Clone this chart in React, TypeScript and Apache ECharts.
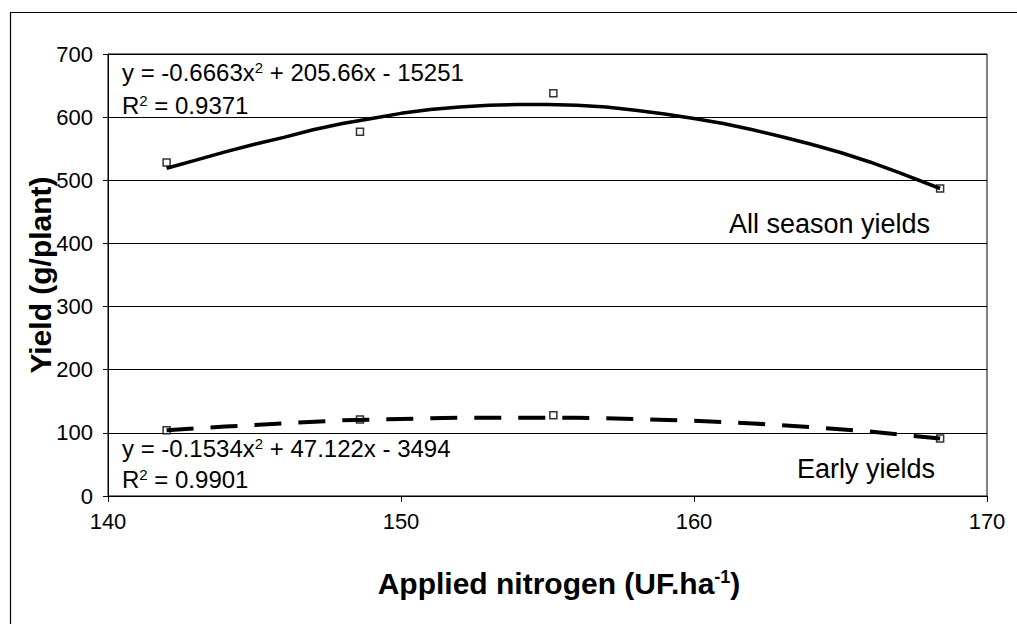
import React, { useEffect, useRef } from "react";
import * as echarts from "echarts";

const xTicks = [140, 150, 160, 170];
const yTicks = [0, 100, 200, 300, 400, 500, 600, 700];

const allSeasonPoints = [
  [142.0, 528],
  [148.6, 577],
  [155.2, 638],
  [168.4, 487],
];
const earlyPoints = [
  [142.0, 104],
  [148.6, 121],
  [155.2, 128],
  [168.4, 91],
];

// trend lines
const allSeasonTrend = [
  [142, 519], [143, 532], [144, 545], [145, 557], [146, 568], [147, 580],
  [148, 590], [149, 598], [150, 606], [151, 612], [152, 616], [153, 619],
  [154, 620], [155, 620], [156, 619], [157, 616], [158, 611], [159, 605],
  [160, 598], [161, 590], [162, 580], [163, 569], [164, 557], [165, 544],
  [166, 529], [167, 512], [168.4, 487],
];
const earlyTrend = [
  [142, 104], [144, 110], [146, 115], [148, 120], [150, 122], [152, 124],
  [154, 124], [156, 124], [158, 122], [160, 119], [162, 115], [164, 109],
  [166, 102], [168.4, 91],
];

const allEq = "y = -0.6663x{sup|2} + 205.66x - 15251";
const allR2 = "R{sup|2} = 0.9371";
const earlyEq = "y = -0.1534x{sup|2} + 47.122x - 3494";
const earlyR2 = "R{sup|2} = 0.9901";
const allLabel = "All season yields";
const earlyLabel = "Early yields";
const xTitle = "Applied nitrogen (UF.ha{sup|-1})";
const yTitle = "Yield (g/plant)";

const FONT = "'Liberation Sans', Arial, sans-serif";

export default function App() {
  const ref = useRef<HTMLDivElement>(null);
  useEffect(() => {
    if (!ref.current) return;
    const chart = echarts.init(ref.current, null, { renderer: "svg" });
    const eqStyle = (text: string) => ({
      text,
      fontSize: 24,
      fontFamily: FONT,
      fill: "#000",
      rich: {
        sup: { fontSize: 15, fontFamily: FONT, verticalAlign: "top", fill: "#000" },
      },
    });
    chart.setOption({
      animation: false,
      backgroundColor: "#fff",
      grid: {
        left: 108,
        top: 54,
        right: 30,
        bottom: 128,
        show: true,
        borderColor: "#000",
        borderWidth: 1,
      },
      xAxis: {
        type: "value",
        min: xTicks[0],
        max: xTicks[xTicks.length - 1],
        interval: 10,
        axisLine: { lineStyle: { color: "#000", width: 1 } },
        axisTick: { show: true, length: 6, lineStyle: { color: "#000" } },
        axisLabel: { fontSize: 22, fontFamily: FONT, color: "#000", margin: 14 },
        splitLine: { show: false },
      },
      yAxis: {
        type: "value",
        min: yTicks[0],
        max: yTicks[yTicks.length - 1],
        interval: 100,
        axisLine: { show: true, lineStyle: { color: "#000", width: 1 } },
        axisTick: { show: true, length: 5, lineStyle: { color: "#000" } },
        axisLabel: { fontSize: 22, fontFamily: FONT, color: "#000", margin: 15 },
        splitLine: { show: true, lineStyle: { color: "#000", width: 1 } },
      },
      series: [
        {
          type: "scatter",
          data: allSeasonPoints,
          symbol: "rect",
          symbolSize: 7,
          itemStyle: { color: "#fff", borderColor: "#000", borderWidth: 1.5 },
          z: 2,
        },
        {
          type: "scatter",
          data: earlyPoints,
          symbol: "rect",
          symbolSize: 7,
          itemStyle: { color: "#fff", borderColor: "#000", borderWidth: 1.5 },
          z: 2,
        },
        {
          type: "line",
          data: allSeasonTrend,
          showSymbol: false,
          smooth: false,
          lineStyle: { color: "#000", width: 3.5 },
          z: 3,
        },
        {
          type: "line",
          data: earlyTrend,
          showSymbol: false,
          smooth: false,
          lineStyle: { color: "#000", width: 4, type: [27, 17] },
          z: 3,
        },
      ],
      graphic: [
        {
          type: "rect",
          shape: { x: 10.5, y: 12.5, width: 1100, height: 800 },
          style: { fill: "none", stroke: "#000", lineWidth: 1.2 },
          z: 100,
        },
        { type: "text", x: 122, y: 72, style: { ...eqStyle(allEq), verticalAlign: "middle" }, z: 100 },
        { type: "text", x: 122, y: 105, style: { ...eqStyle(allR2), verticalAlign: "middle" }, z: 100 },
        { type: "text", x: 122, y: 448, style: { ...eqStyle(earlyEq), verticalAlign: "middle" }, z: 100 },
        { type: "text", x: 122, y: 479, style: { ...eqStyle(earlyR2), verticalAlign: "middle" }, z: 100 },
        {
          type: "text",
          x: 930,
          y: 224,
          style: { text: allLabel, fontSize: 27, fontFamily: FONT, fill: "#000", align: "right", verticalAlign: "middle" },
          z: 100,
        },
        {
          type: "text",
          x: 935,
          y: 469,
          style: { text: earlyLabel, fontSize: 27, fontFamily: FONT, fill: "#000", align: "right", verticalAlign: "middle" },
          z: 100,
        },
        {
          type: "text",
          x: 559,
          y: 583,
          style: {
            text: xTitle,
            fontSize: 30,
            fontWeight: "bold",
            fontFamily: FONT,
            fill: "#000",
            align: "center",
            verticalAlign: "middle",
            rich: {
              sup: { fontSize: 18, fontWeight: "bold", fontFamily: FONT, verticalAlign: "top", fill: "#000" },
            },
          },
          z: 100,
        },
        {
          type: "text",
          x: 40,
          y: 275,
          rotation: Math.PI / 2,
          style: {
            text: yTitle,
            fontSize: 30,
            fontWeight: "bold",
            fontFamily: FONT,
            fill: "#000",
            align: "center",
            verticalAlign: "middle",
          },
          z: 100,
        },
      ],
    });
    return () => chart.dispose();
  }, []);
  return (
    <div
      ref={ref}
      style={{ position: "absolute", left: 0, top: 0, width: 1017, height: 624 }}
    />
  );
}
